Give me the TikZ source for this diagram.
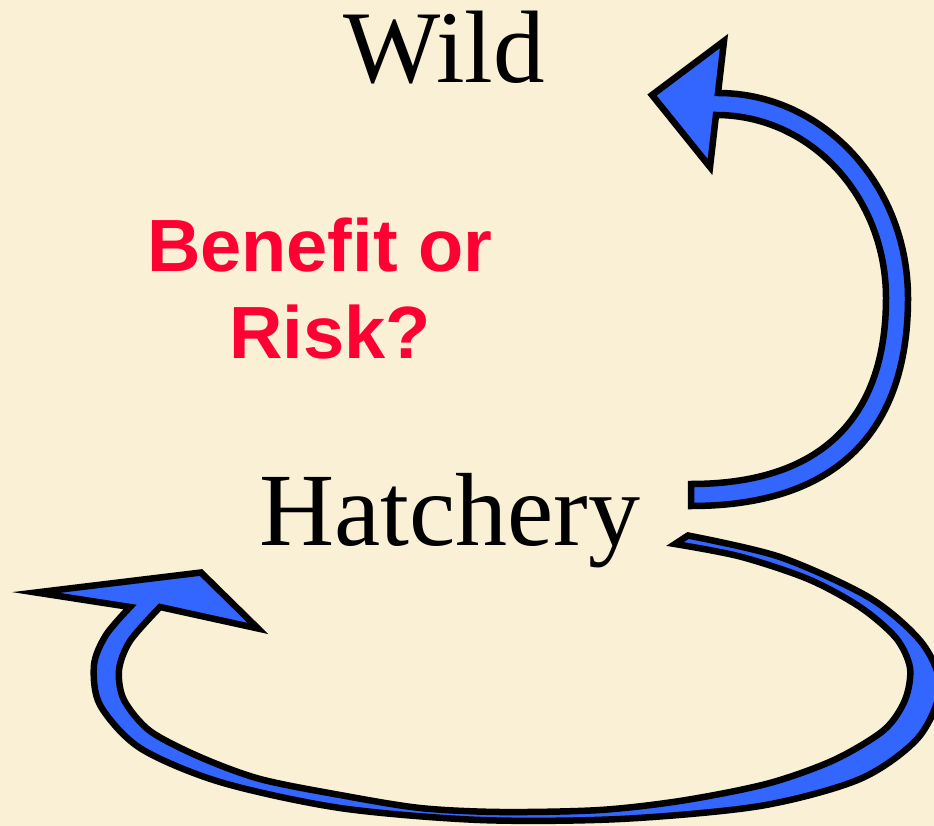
\documentclass[tikz,border=0pt]{standalone}
\usepackage{fontspec}
\setmainfont{Liberation Serif}
\newfontfamily\labelsans{Liberation Sans}
\definecolor{parchment}{RGB}{250,240,214}
\definecolor{arrowblue}{RGB}{51,102,255}
\definecolor{alertred}{RGB}{255,0,51}
\begin{document}
\begin{tikzpicture}[x=1pt,y=-1pt,
  ribbon/.style={fill=arrowblue, draw=black, line width=6.5pt, line join=miter, miter limit=12},
  bigword/.style={font=\fontsize{104}{110}\selectfont, text=black, inner sep=0pt, anchor=base},
  question/.style={font=\labelsans\bfseries\fontsize{74}{87}\selectfont, text=alertred,
                   align=center, inner sep=0pt, anchor=base}]
% page and paper colour
\fill[parchment] (0,0) rectangle (934,826);
\useasboundingbox (0,0) rectangle (934,826);
\clip (0,0) rectangle (934,826);

% labels (the two-line label sits on the baseline of its last line)
\node[bigword, font=\fontsize{103}{110}\selectfont] (wild) at (444,83) {Wild};
\node[bigword] (hatchery) at (450,545) {Hatchery};
\node[question] (question) at (330,358) {Benefit or\kern0.278em\\Risk?};

% arrow ends
\coordinate (wildtip) at (652,95);
\coordinate (wildbarbA) at (724,41);
\coordinate (wildbarbB) at (710,167);
\coordinate (looptip) at (201,572.5);
\coordinate (loopbarbA) at (36,592.5);
\coordinate (loopbarbB) at (258,628.5);

% curved arrow from the hatchery up to the wild
\draw[ribbon] (691,484) .. controls (818,484) and (886,421) .. (886,298)
  .. controls (886,197) and (810.8,115) .. (716,115)
  -- (wildbarbB) -- (wildtip) -- (wildbarbA) -- (718,93)
  .. controls (822.9,93) and (908,184.8) .. (908,298)
  .. controls (908,435) and (833,506) .. (691,506) -- cycle;

% looping arrow from the hatchery back round to itself
\draw[ribbon]
  plot[smooth, tension=0.5] coordinates {
    (688,535.5) (780,557) (870,598) (922,643) (940,688) (918,738) (860,779)
    (760,806) (620,819) (480,820) (340,808) (220,782) (140,748) (100,705)
    (94,665) (106,635) (130,607)}
  -- (loopbarbA) -- (looptip) -- (loopbarbB)
  -- plot[smooth, tension=0.5] coordinates {
    (160,607) (130,641) (119,670) (124,700) (150,731) (200,757) (260,779)
    (340,795) (420,808) (500,812) (600,810) (683,800.5) (768,783.5) (834,760)
    (884,730) (905,700) (910,668) (896,638) (860,607) (808,579) (740,556.5)
    (675,544)}
  -- cycle;
\end{tikzpicture}
\end{document}
